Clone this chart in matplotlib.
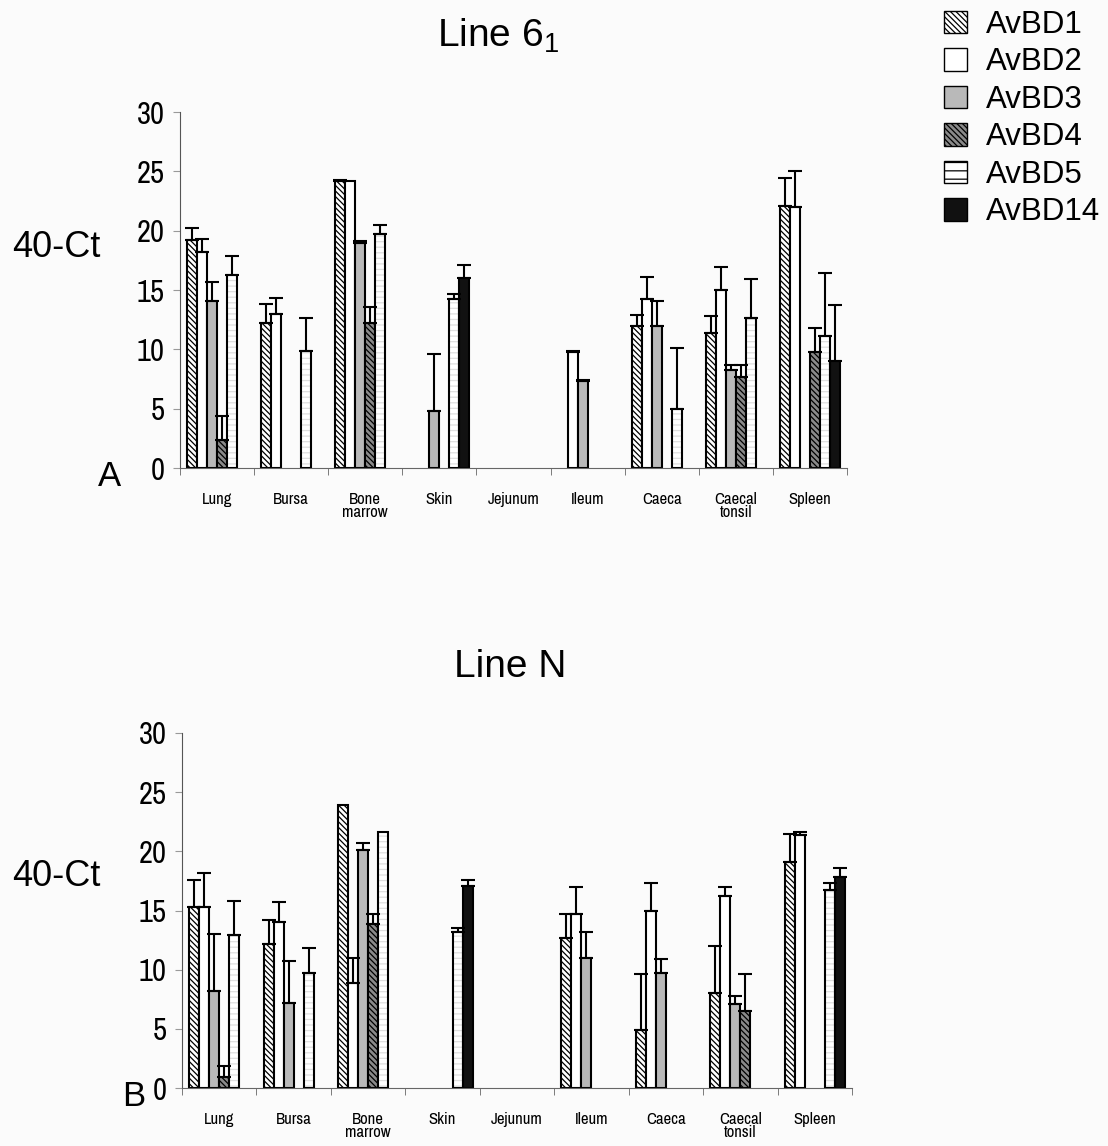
import numpy as np
import matplotlib.pyplot as plt
from matplotlib.patches import Patch

plt.rcParams['font.family'] = ['Liberation Sans', 'DejaVu Sans']
plt.rcParams['mathtext.fontset'] = 'custom'
plt.rcParams['mathtext.rm'] = 'Liberation Sans'
plt.rcParams['hatch.linewidth'] = 0.9

tissues = ["Lung", "Bursa", "Bone\nmarrow", "Skin", "Jejunum", "Ileum",
           "Caeca", "Caecal\ntonsil", "Spleen"]
genes = ["AvBD1", "AvBD2", "AvBD3", "AvBD4", "AvBD5", "AvBD14"]

# Line 6_1 : mean 40-Ct and upper error per tissue
l61_avbd1 = [19.2, 12.2, 24.2, 0, 0, 0, 12.0, 11.4, 22.1]
l61_avbd1_err = [1.0, 1.6, 0.1, 0, 0, 0, 0.9, 1.4, 2.3]
l61_avbd2 = [18.2, 13.0, 24.2, 0, 0, 9.8, 14.2, 15.0, 22.0]
l61_avbd2_err = [1.1, 1.3, 0, 0, 0, 0.1, 1.9, 1.9, 3.0]
l61_avbd3 = [14.1, 0, 19.0, 4.8, 0, 7.3, 12.0, 8.3, 0]
l61_avbd3_err = [1.6, 0, 0.1, 4.8, 0, 0.1, 2.1, 0.4, 0]
l61_avbd4 = [2.4, 0, 12.2, 0, 0, 0, 0, 7.7, 9.8]
l61_avbd4_err = [2.0, 0, 1.4, 0, 0, 0, 0, 1.0, 2.0]
l61_avbd5 = [16.3, 9.9, 19.7, 14.2, 0, 0, 5.0, 12.6, 11.1]
l61_avbd5_err = [1.6, 2.7, 0.8, 0.5, 0, 0, 5.1, 3.3, 5.3]
l61_avbd14 = [0, 0, 0, 16.0, 0, 0, 0, 0, 9.0]
l61_avbd14_err = [0, 0, 0, 1.1, 0, 0, 0, 0, 4.7]

# Line N
ln_avbd1 = [15.3, 12.2, 23.9, 0, 0, 12.7, 4.9, 8.0, 19.1]
ln_avbd1_err = [2.3, 2.0, 0, 0, 0, 2.0, 4.7, 4.0, 2.4]
ln_avbd2 = [15.3, 14.0, 8.9, 0, 0, 14.7, 15.0, 16.2, 21.4]
ln_avbd2_err = [2.9, 1.7, 2.1, 0, 0, 2.3, 2.3, 0.8, 0.2]
ln_avbd3 = [8.2, 7.2, 20.1, 0, 0, 11.0, 9.7, 7.1, 0]
ln_avbd3_err = [4.8, 3.5, 0.6, 0, 0, 2.2, 1.2, 0.7, 0]
ln_avbd4 = [0.9, 0, 13.9, 0, 0, 0, 0, 6.5, 0]
ln_avbd4_err = [1.0, 0, 0.8, 0, 0, 0, 0, 3.1, 0]
ln_avbd5 = [12.9, 9.7, 21.6, 13.2, 0, 0, 0, 0, 16.7]
ln_avbd5_err = [2.9, 2.1, 0, 0.3, 0, 0, 0, 0, 0.6]
ln_avbd14 = [0, 0, 0, 17.1, 0, 0, 0, 0, 17.8]
ln_avbd14_err = [0, 0, 0, 0.5, 0, 0, 0, 0, 0.8]

dense = '\\' * 6
styles = [
    dict(facecolor='white', hatch=dense),
    dict(facecolor='white'),
    dict(facecolor='#b9b9b9'),
    dict(facecolor='#8a8a8a', hatch=dense),
    dict(facecolor='white', hatch='---', hatch_edge='#dedede'),
    dict(facecolor='#111111'),
]

narrow = ['Archivo Narrow', 'Roboto Condensed', 'PT Sans Narrow', 'Liberation Sans']


def draw_panel(ax, means, errs):
    x = np.arange(len(tissues))
    w = 0.135
    for i, (m, e) in enumerate(zip(means, errs)):
        m = np.asarray(m, float)
        e = np.asarray(e, float)
        pos = x + (i - 2.5) * w
        on = m > 0
        st = dict(styles[i])
        hatch_edge = st.pop('hatch_edge', None)
        if hatch_edge:
            ax.bar(pos[on], m[on], w, facecolor=st['facecolor'], hatch=st['hatch'],
                   edgecolor=hatch_edge, linewidth=0, zorder=2)
            ax.bar(pos[on], m[on], w, fill=False, edgecolor='black',
                   linewidth=1.5, zorder=3)
        else:
            ax.bar(pos[on], m[on], w, edgecolor='black', linewidth=1.5,
                   zorder=2, **st)
        has = e > 0
        ax.errorbar(pos[has], m[has], yerr=[np.zeros(has.sum()), e[has]],
                    fmt='none', ecolor='black', elinewidth=1.5, capsize=5,
                    capthick=1.5, zorder=4)

    ax.set_xlim(-0.5, len(tissues) - 0.5)
    ax.set_ylim(0, 30)
    ax.set_yticks(range(0, 31, 5))
    ax.set_xticks(x)
    ax.set_xticklabels(tissues, family=narrow, fontsize=12, linespacing=0.9)
    ax.set_xticks(np.arange(-0.5, len(tissues), 1), minor=True)
    ax.tick_params(axis='x', which='major', length=0, pad=17)
    ax.tick_params(axis='x', which='minor', length=5, color='#666666')
    ax.tick_params(axis='y', length=5, color='#999999', pad=6)
    for lab in ax.get_yticklabels():
        lab.set_family(narrow)
        lab.set_fontsize(22)
    for s in ['top', 'right']:
        ax.spines[s].set_visible(False)
    ax.spines['left'].set_color('#555555')
    ax.spines['bottom'].set_color('#666666')
    ax.set_facecolor('none')


W, H = 1108, 1146
fig = plt.figure(figsize=(W / 100, H / 100), dpi=100, facecolor='#fbfbfb')

ax1 = fig.add_axes([180 / W, 1 - 468 / H, 667 / W, 356 / H])
draw_panel(ax1,
           [l61_avbd1, l61_avbd2, l61_avbd3, l61_avbd4, l61_avbd5, l61_avbd14],
           [l61_avbd1_err, l61_avbd2_err, l61_avbd3_err, l61_avbd4_err,
            l61_avbd5_err, l61_avbd14_err])

ax2 = fig.add_axes([182 / W, 1 - 1088 / H, 670 / W, 355 / H])
draw_panel(ax2,
           [ln_avbd1, ln_avbd2, ln_avbd3, ln_avbd4, ln_avbd5, ln_avbd14],
           [ln_avbd1_err, ln_avbd2_err, ln_avbd3_err, ln_avbd4_err,
            ln_avbd5_err, ln_avbd14_err])

fig.text(498 / W, 1 - 47 / H, r'Line 6$_{1}$', ha='center', va='baseline',
         fontsize=28)
fig.text(510 / W, 1 - 677 / H, 'Line N', ha='center', va='baseline',
         fontsize=28)

fig.text(12 / W, 1 - 247 / H, '40-Ct', ha='left', va='center', fontsize=26)
fig.text(12 / W, 1 - 876 / H, '40-Ct', ha='left', va='center', fontsize=26)
fig.text(110 / W, 1 - 476 / H, 'A', ha='center', va='center', fontsize=25)
fig.text(134 / W, 1 - 1097 / H, 'B', ha='center', va='center', fontsize=25)

handles = []
for st in styles:
    st = dict(st)
    hatch_edge = st.pop('hatch_edge', None)
    if hatch_edge:
        st['hatch'] = '--'
    handles.append(Patch(edgecolor='black', linewidth=1.0, **st))
fig.legend(handles, genes, loc='upper left', bbox_to_anchor=(922 / W, 1 + 12 / H),
           frameon=False, fontsize=22.5, handlelength=0.75, handleheight=0.75,
           handletextpad=0.6, labelspacing=0.24, borderpad=0.2)

fig.savefig('out.png', dpi=100, facecolor=fig.get_facecolor())
